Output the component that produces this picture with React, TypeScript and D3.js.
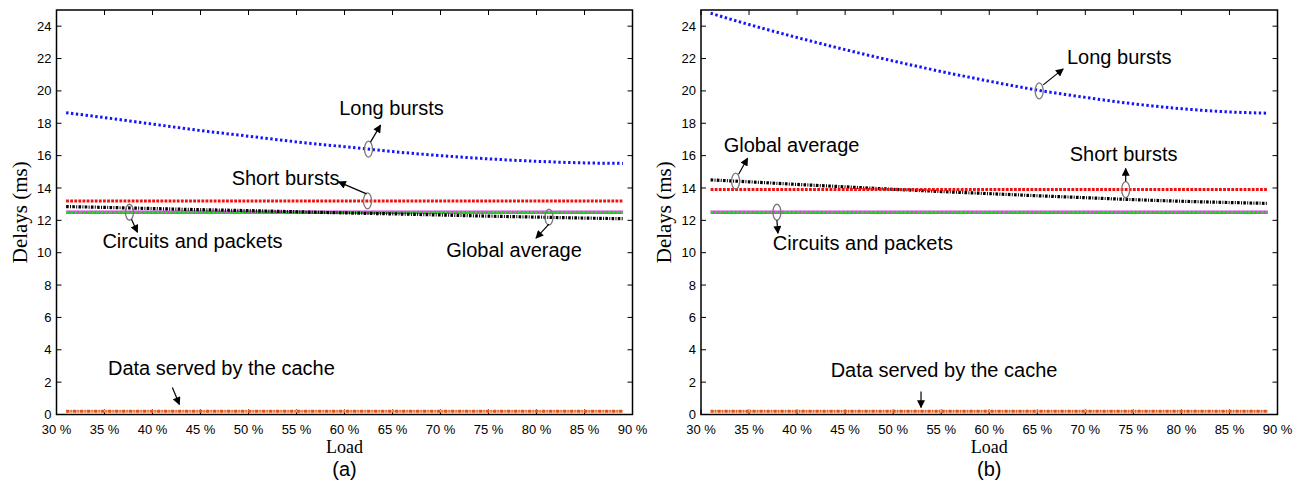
import React from 'react';
import * as d3 from 'd3';

// load points (%)
const loads = [31, 35, 40, 45, 50, 55, 60, 65, 70, 75, 80, 85, 89];

// panel (a)
const longA = [18.65, 18.35, 17.95, 17.55, 17.2, 16.85, 16.55, 16.25, 16.0, 15.8, 15.65, 15.55, 15.52];
const shortA = [13.2, 13.2, 13.2, 13.2, 13.2, 13.2, 13.2, 13.2, 13.2, 13.2, 13.2, 13.2, 13.2];
const globalA = [12.85, 12.8, 12.73, 12.66, 12.6, 12.53, 12.46, 12.4, 12.33, 12.26, 12.2, 12.14, 12.1];
const circuitsA = [12.5, 12.5, 12.5, 12.5, 12.5, 12.5, 12.5, 12.5, 12.5, 12.5, 12.5, 12.5, 12.5];
const packetsA = [12.5, 12.5, 12.5, 12.5, 12.5, 12.5, 12.5, 12.5, 12.5, 12.5, 12.5, 12.5, 12.5];
const cacheA = [0.2, 0.2, 0.2, 0.2, 0.2, 0.2, 0.2, 0.2, 0.2, 0.2, 0.2, 0.2, 0.2];

// panel (b)
const longB = [24.8, 24.1, 23.3, 22.55, 21.85, 21.2, 20.6, 20.05, 19.6, 19.2, 18.9, 18.7, 18.62];
const shortB = [13.9, 13.9, 13.9, 13.9, 13.9, 13.9, 13.9, 13.9, 13.9, 13.9, 13.9, 13.9, 13.9];
const globalB = [14.5, 14.38, 14.22, 14.07, 13.92, 13.78, 13.65, 13.52, 13.4, 13.28, 13.18, 13.1, 13.05];
const circuitsB = [12.5, 12.5, 12.5, 12.5, 12.5, 12.5, 12.5, 12.5, 12.5, 12.5, 12.5, 12.5, 12.5];
const packetsB = [12.5, 12.5, 12.5, 12.5, 12.5, 12.5, 12.5, 12.5, 12.5, 12.5, 12.5, 12.5, 12.5];
const cacheB = [0.2, 0.2, 0.2, 0.2, 0.2, 0.2, 0.2, 0.2, 0.2, 0.2, 0.2, 0.2, 0.2];

const xTicks = [30, 35, 40, 45, 50, 55, 60, 65, 70, 75, 80, 85, 90];
const yTicks = [0, 2, 4, 6, 8, 10, 12, 14, 16, 18, 20, 22, 24];

// annotation: anchor in data units, the rest are pixel offsets from it
const notesA = [
    { label: 'Long bursts', at: [62.5, 16.4], from: [2, -7], tip: [12, -24], text: [23, -41], ring: true },
    { label: 'Short bursts', at: [62.4, 13.2], from: [-1, -7], tip: [-29, -19], text: [-82, -23], ring: true },
    { label: 'Circuits and packets', at: [37.6, 12.5], from: [2, 7], tip: [8, 20], text: [63, 29], ring: true },
    { label: 'Global average', at: [81.3, 12.2], from: [0, 7], tip: [-13, 21], text: [-35, 33], ring: true },
    { label: 'Data served by the cache', at: [42.8, 0], from: [-7, -27], tip: [0, -10], text: [42, -47], ring: false },
];
const notesB = [
    { label: 'Global average', at: [33.6, 14.42], from: [3, -7], tip: [12, -23], text: [56, -36], ring: true },
    { label: 'Circuits and packets', at: [37.9, 12.5], from: [0, 8], tip: [1, 21], text: [86, 31], ring: true },
    { label: 'Long bursts', at: [65.2, 20.0], from: [4, -6], tip: [24, -22], text: [80, -34], ring: true },
    { label: 'Short bursts', at: [74.2, 13.9], from: [0, -8], tip: [0, -21], text: [-2, -36], ring: true },
    { label: 'Data served by the cache', at: [52.9, 0], from: [0, -23], tip: [0, -7], text: [23, -45], ring: false },
];

const SANS = '"Liberation Sans", Arial, sans-serif';
const SERIF = '"Liberation Serif", "Times New Roman", serif';

function Panel({ left, right, tag, series, notes }) {
    const top = 10, bottom = 414.5;
    const x = d3.scaleLinear().domain([30, 90]).range([left, right]);
    const y = d3.scaleLinear().domain([0, 25]).range([bottom, top]);
    const line = d3.line().x((d, i) => x(loads[i])).y(d => y(d)).curve(d3.curveMonotoneX);

    const styles = [
        { vals: series.packets, color: '#d040d8', w: 3.5, dash: null },
        { vals: series.circuits, color: '#1fe01f', w: 2.6, dash: '3,1.3' },
        { vals: series.cache, color: '#f0b090', w: 2.6, dash: null },
        { vals: series.cache, color: '#e2561a', w: 2.8, dash: '3,1.5,1,1.5' },
        { vals: series.global, color: '#000', w: 3.2, dash: '2.6,1.3,1,1.3' },
        { vals: series.short, color: '#f01010', w: 3, dash: '2.8,1.3' },
        { vals: series.long, color: '#1414ff', w: 3, dash: '2.4,2.5' },
    ];

    return (
        <g>
            <rect x={left} y={top} width={right - left} height={bottom - top} fill="none" stroke="#000" strokeWidth={1.5} />
            {xTicks.map(t => (
                <g key={'x' + t}>
                    <line x1={x(t)} x2={x(t)} y1={bottom} y2={bottom - 5} stroke="#000" />
                    <line x1={x(t)} x2={x(t)} y1={top} y2={top + 5} stroke="#000" />
                    <text x={x(t)} y={429} dy="0.35em" textAnchor="middle" fontSize={13} fontFamily={SANS}>{t + ' %'}</text>
                </g>
            ))}
            {yTicks.map(t => (
                <g key={'y' + t}>
                    <line x1={left} x2={left + 5} y1={y(t)} y2={y(t)} stroke="#000" />
                    <line x1={right} x2={right - 5} y1={y(t)} y2={y(t)} stroke="#000" />
                    <text x={left - 5} y={y(t)} dy="0.35em" textAnchor="end" fontSize={13} fontFamily={SANS}>{t}</text>
                </g>
            ))}
            {styles.map((s, i) => (
                <path key={i} d={line(s.vals)} fill="none" stroke={s.color} strokeWidth={s.w}
                    strokeDasharray={s.dash || undefined} />
            ))}
            <text transform={`translate(${left - 37},${(top + bottom) / 2}) rotate(-90)`} dy="0.35em" textAnchor="middle"
                fontSize={21} fontFamily={SERIF}>Delays (ms)</text>
            <text x={(left + right) / 2} y={447} dy="0.32em" textAnchor="middle" fontSize={18} fontFamily={SERIF}>Load</text>
            <text x={(left + right) / 2} y={469} dy="0.35em" textAnchor="middle" fontSize={20} fontFamily={SANS}>{tag}</text>
            {notes.map((n, i) => {
                const cx = x(n.at[0]), cy = y(n.at[1]);
                return (
                    <g key={'n' + i}>
                        {n.ring ? <ellipse cx={cx} cy={cy} rx={4} ry={8} fill="none" stroke="#777" strokeWidth={1.3} /> : null}
                        <line x1={cx + n.from[0]} y1={cy + n.from[1]} x2={cx + n.tip[0]} y2={cy + n.tip[1]}
                            stroke="#000" strokeWidth={1.2} markerEnd="url(#arrowhead)" />
                        <text x={cx + n.text[0]} y={cy + n.text[1]} dy="0.35em" textAnchor="middle"
                            fontSize={20} fontFamily={SANS}>{n.label}</text>
                    </g>
                );
            })}
        </g>
    );
}

export default function App() {
    const a = { long: longA, short: shortA, global: globalA, circuits: circuitsA, packets: packetsA, cache: cacheA };
    const b = { long: longB, short: shortB, global: globalB, circuits: circuitsB, packets: packetsB, cache: cacheB };
    return (
        <svg width={1301} height={481} style={{ position: 'absolute', left: 0, top: 0, background: '#fff' }}>
            <defs>
                <marker id="arrowhead" viewBox="0 0 10 10" refX={9} refY={5} markerWidth={10} markerHeight={8}
                    markerUnits="userSpaceOnUse" orient="auto">
                    <path d="M0,0 L10,5 L0,10 z" fill="#000" />
                </marker>
            </defs>
            <Panel left={56.5} right={632.5} tag="(a)" series={a} notes={notesA} />
            <Panel left={701} right={1277.5} tag="(b)" series={b} notes={notesB} />
        </svg>
    );
}
